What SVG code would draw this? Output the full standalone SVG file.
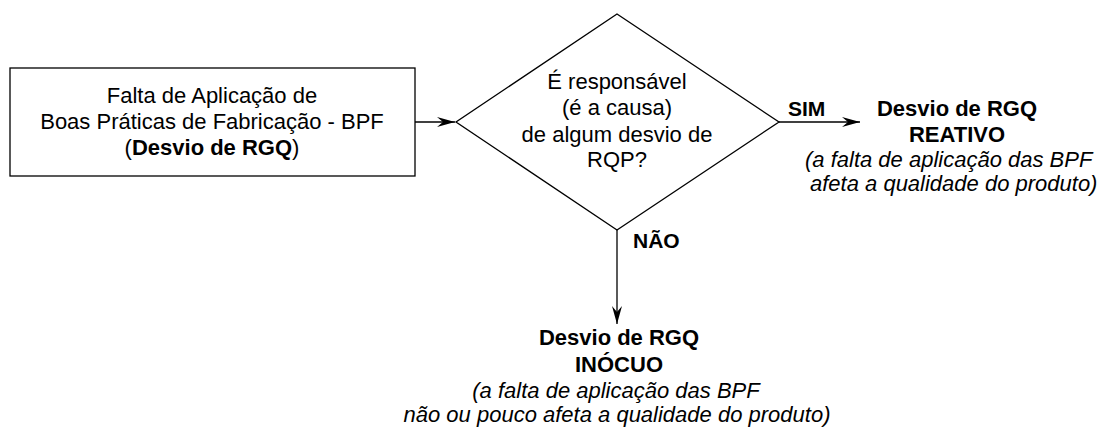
<svg xmlns="http://www.w3.org/2000/svg" width="1097" height="430" viewBox="0 0 1097 430">
<style>
text{font-family:"Liberation Sans",Arial,sans-serif;font-size:22px;fill:#000}
.b{font-weight:bold}
.i{font-style:italic}
.lbl{font-weight:bold;font-size:21px}
.shape{fill:#fff;stroke:#000;stroke-width:1.3}
.conn{fill:none;stroke:#000;stroke-width:1.3}
</style>
<defs>
<marker id="ah" viewBox="-19 -6 20 12" refX="0" refY="0" markerWidth="20" markerHeight="12" markerUnits="userSpaceOnUse" orient="auto">
<path d="M0,0 L-18,-5 L-12,0 L-18,5 Z" fill="#000"/>
</marker>
</defs>
<rect width="1097" height="430" fill="#fff"/>
<g id="connectors">
<line class="conn" x1="415" y1="122" x2="455" y2="122" marker-end="url(#ah)"/>
<line class="conn" x1="779" y1="122" x2="860" y2="122" marker-end="url(#ah)"/>
<line class="conn" x1="617" y1="230" x2="617" y2="324" marker-end="url(#ah)"/>
<text class="lbl" x="788" y="116">SIM</text>
<text class="lbl" x="633" y="248">NÃO</text>
</g>
<g id="node-bpf">
<rect class="shape" x="10" y="68" width="405" height="108"/>
<text x="212" y="103" text-anchor="middle">Falta de Aplicação de</text>
<text x="212" y="129" text-anchor="middle">Boas Práticas de Fabricação - BPF</text>
<text x="212" y="155" text-anchor="middle">(<tspan class="b">Desvio de RGQ</tspan>)</text>
</g>
<g id="node-decision">
<polygon class="shape" points="617,14 779,122 617,230 456,122"/>
<text x="617" y="89" text-anchor="middle">É responsável</text>
<text x="617" y="115" text-anchor="middle">(é a causa)</text>
<text x="617" y="142" text-anchor="middle">de algum desvio de</text>
<text x="617" y="167" text-anchor="middle">RQP?</text>
</g>
<g id="node-reativo">
<text class="b" x="957" y="116" text-anchor="middle">Desvio de RGQ</text>
<text class="b" x="957" y="142" text-anchor="middle">REATIVO</text>
<text class="i" x="805" y="167">(a falta de aplicação das BPF</text>
<text class="i" x="810" y="191">afeta a qualidade do produto)</text>
</g>
<g id="node-inocuo">
<text class="b" x="619" y="345" text-anchor="middle">Desvio de RGQ</text>
<text class="b" x="619" y="372" text-anchor="middle">INÓCUO</text>
<text class="i" x="616" y="398" text-anchor="middle">(a falta de aplicação das BPF</text>
<text class="i" x="617" y="422" text-anchor="middle">não ou pouco afeta a qualidade do produto)</text>
</g>
</svg>
